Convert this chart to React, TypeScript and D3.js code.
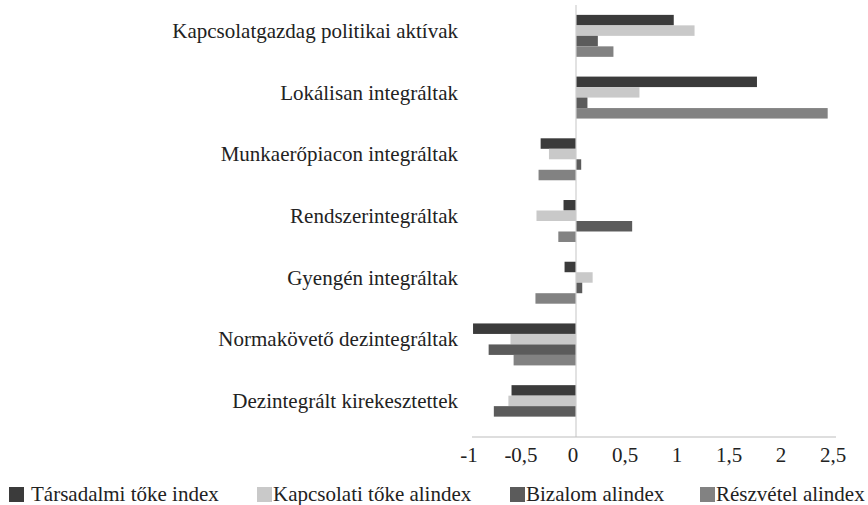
import * as d3 from "d3"

// categories top to bottom
const categories = [
  "Kapcsolatgazdag politikai aktívak",
  "Lokálisan integráltak",
  "Munkaerőpiacon integráltak",
  "Rendszerintegráltak",
  "Gyengén integráltak",
  "Normakövető dezintegráltak",
  "Dezintegrált kirekesztettek",
]

const seriesNames = [
  "Társadalmi tőke index",
  "Kapcsolati tőke alindex",
  "Bizalom alindex",
  "Részvétel alindex",
]

const tarsadalmi = [0.94, 1.74, -0.34, -0.12, -0.11, -0.99, -0.62]
const kapcsolati = [1.14, 0.61, -0.26, -0.38, 0.16, -0.63, -0.65]
const bizalom = [0.21, 0.11, 0.05, 0.54, 0.06, -0.84, -0.79]
const reszvetel = [0.36, 2.42, -0.36, -0.17, -0.39, -0.6, 0]

const xTicks = [-1, -0.5, 0, 0.5, 1, 1.5, 2, 2.5]

const colors = ["#3b3b3b", "#c9c9c9", "#5b5b5b", "#828282"]

const width = 868
const height = 505
const font = "'Liberation Serif', 'Times New Roman', serif"
const fontSize = 21

export default function App() {
  const values = [tarsadalmi, kapcsolati, bizalom, reszvetel]

  const x = d3.scaleLinear().domain([-1, 2.5]).range([472, 836])
  const y = d3.scaleBand<string>()
    .domain(categories)
    .range([5, 437])
    .paddingInner(0.32)
    .paddingOuter(0.16)
  const sub = d3.scaleBand<string>()
    .domain(seriesNames)
    .range([0, y.bandwidth()])

  const fmt = (v: number) => String(v).replace(".", ",")

  // legend layout
  const legendX = [9, 257, 510, 700]

  return (
    <svg width={width} height={height} style={{ position: "absolute", left: 0, top: 0 }}>
      <rect width={width} height={height} fill="#fff" />

      {/* bars */}
      {categories.map((c, i) => (
        <g key={c} transform={`translate(0,${y(c)})`}>
          {seriesNames.map((s, j) => {
            const v = values[j][i]
            return (
              <rect
                key={s}
                x={Math.min(x(0), x(v))}
                y={sub(s)}
                width={Math.abs(x(v) - x(0))}
                height={sub.bandwidth()}
                fill={colors[j]}
              />
            )
          })}
        </g>
      ))}

      {/* zero line */}
      <line x1={x(0)} x2={x(0)} y1={5} y2={437} stroke="#cfcfcf" strokeWidth={1.2} />

      {/* x axis */}
      <line x1={x(-1)} x2={x(2.5)} y1={437} y2={437} stroke="#bdbdbd" strokeWidth={1.2} />
      {xTicks.map(t => (
        <text
          key={t}
          x={x(t) - 3}
          y={462}
          textAnchor="middle"
          fontFamily={font}
          fontSize={fontSize}
          fill="#222"
        >
          {fmt(t)}
        </text>
      ))}

      {/* category labels */}
      {categories.map(c => (
        <text
          key={c}
          x={458}
          y={(y(c) ?? 0) + y.bandwidth() / 2 + 2}
          textAnchor="end"
          fontFamily={font}
          fontSize={fontSize}
          fill="#222"
        >
          {c}
        </text>
      ))}

      {/* legend */}
      {seriesNames.map((s, j) => (
        <g key={s} transform={`translate(${legendX[j]},0)`}>
          <rect x={0} y={487} width={15} height={15} fill={colors[j]} />
          <text x={j === 0 ? 22 : 16} y={501} fontFamily={font} fontSize={fontSize} fill="#222">
            {s}
          </text>
        </g>
      ))}
    </svg>
  )
}
